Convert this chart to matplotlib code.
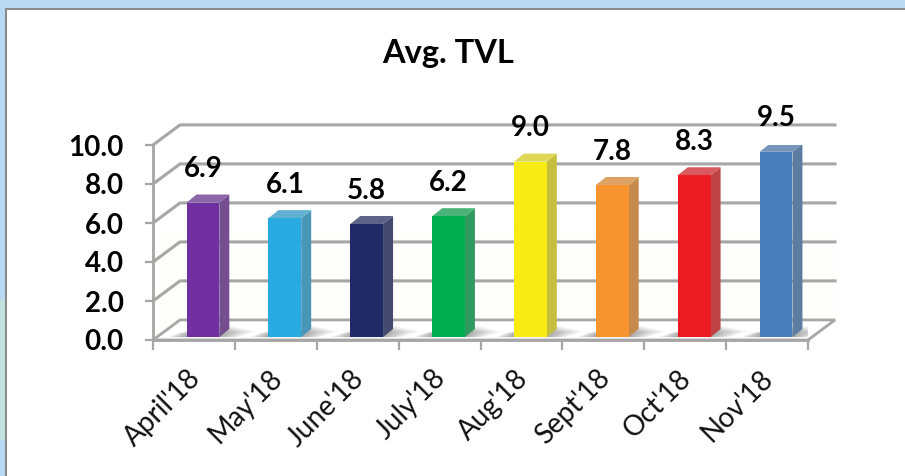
import matplotlib
matplotlib.use('Agg')
import matplotlib.pyplot as plt
from matplotlib.colors import to_rgb
from matplotlib.patches import Polygon, Rectangle
from matplotlib.transforms import ScaledTranslation

plt.rcParams['font.family'] = ['Lato', 'DejaVu Sans']

months = ["April'18", "May'18", "June'18", "July'18", "Aug'18", "Sept'18", "Oct'18", "Nov'18"]
tvl = [6.9, 6.1, 5.8, 6.2, 9.0, 7.8, 8.3, 9.5]
bar_colors = ['#7030A0', '#29ABE2', '#1F2A66', '#00B050', '#F9EC14', '#F7942E', '#ED1C24', '#4A7EBB']
y_ticks = [0, 2, 4, 6, 8, 10]

W, H = 905, 476
GRID = '#a6a6a6'
# depth of the fake 3d box, in data units
DX, DY = 0.33, 1.03
# depth of one bar
BAR_DX, BAR_DY = 0.122, 0.41
BAR_LEFT, BAR_W, BAR_BASE = 0.41, 0.40, 0.15


def mix(color, other, amount):
    c, o = to_rgb(color), to_rgb(other)
    return tuple(a * (1 - amount) + b * amount for a, b in zip(c, o))


fig = plt.figure(figsize=(W / 100, H / 100), dpi=100, facecolor='#B9D9F3')
# window frame
fig.add_artist(Rectangle((0, 36 / H), 5 / W, 140 / H, transform=fig.transFigure, fc='#C2E0DC', ec='none', zorder=-3))
fig.add_artist(Rectangle((5 / W, 0), 1, 1 - 8 / H, transform=fig.transFigure, fc='#8a8a8a', ec='none', zorder=-2))
fig.add_artist(Rectangle((7 / W, 0), 1, 1 - 10 / H, transform=fig.transFigure, fc='white', ec='none', zorder=-1))

ax = fig.add_axes([153 / W, 1 - 340 / H, 655 / W, 195 / H])
ax.patch.set_alpha(0)
ax.set_xlim(0, 8)
ax.set_ylim(0, 10)
for s in ['top', 'right']:
    ax.spines[s].set_visible(False)
for s in ['left', 'bottom']:
    ax.spines[s].set_color(GRID)
    ax.spines[s].set_linewidth(2)

# back wall tint and floor
ax.add_patch(Polygon([(0, 0), (DX, DY), (8 + DX, DY), (8 + DX, 5.6), (0, 5.6)], fc='#fefefd', ec='none', clip_on=False, zorder=0))
ax.add_patch(Polygon([(0, 0), (DX, DY), (8 + DX, DY), (8, 0)], fc='white', ec=GRID, lw=2, clip_on=False, zorder=1))

# grid lines running along the side wall and the back wall
for t in y_ticks[1:]:
    ax.plot([0, DX, 8 + DX], [t, t + DY, t + DY], color=GRID, lw=2.2, clip_on=False, zorder=1)

for i, v in enumerate(tvl):
    x0 = i + BAR_LEFT
    x1 = x0 + BAR_W
    top = v + BAR_BASE
    c = bar_colors[i]
    # soft shadow on the floor
    for k in range(10):
        grow = k * 0.022
        ax.add_patch(Polygon([(x0 - 0.03 - grow, BAR_BASE), (x0 + 0.1 - grow, 0.55 - grow),
                              (x1 + 0.14 + grow * 1.6, 0.75 - grow * 1.5), (x1 + 0.02 + grow, BAR_BASE)],
                             fc='#666666', alpha=0.07, ec='none', zorder=2))
    ax.bar(x0, v, width=BAR_W, bottom=BAR_BASE, align='edge', color=c, zorder=4)
    ax.add_patch(Polygon([(x1, BAR_BASE), (x1 + BAR_DX, BAR_BASE + BAR_DY), (x1 + BAR_DX, top + BAR_DY), (x1, top)],
                         fc=mix(c, '#7a7a7a', 0.4), ec='none', zorder=3))
    ax.add_patch(Polygon([(x0, top), (x0 + BAR_DX, top + BAR_DY), (x1 + BAR_DX, top + BAR_DY), (x1, top)],
                         fc=mix(c, '#b8b8b8', 0.4), ec='none', zorder=3))
    ax.annotate(f'{v:.1f}', (x0 + BAR_W / 2, top), xytext=(0, 24), textcoords='offset points',
                ha='center', va='center', fontsize=20, fontweight='bold', color='black', zorder=6,
                annotation_clip=False)

ax.set_yticks(y_ticks)
ax.set_yticklabels([f'{t:.1f}' for t in y_ticks], fontsize=20, fontweight='bold', color='black')
ax.tick_params(axis='y', length=6, width=1.6, color=GRID, pad=15)

ax.set_xticks([i + 0.5 for i in range(8)])
ax.set_xticklabels(months, rotation=45, ha='right', rotation_mode='anchor', fontsize=20, color='#111111')
ax.set_xticks(range(9), minor=True)
ax.tick_params(axis='x', which='major', length=0, pad=18)
ax.tick_params(axis='x', which='minor', length=7, width=1.6, color=GRID)
for lbl in ax.get_xticklabels():
    lbl.set_transform(lbl.get_transform() + ScaledTranslation(-7 / 100, 0, fig.dpi_scale_trans))

fig.text(448 / W, 1 - 53 / H, 'Avg. TVL', ha='center', va='center', fontsize=23.5, fontweight='bold', color='black')

fig.savefig('out.png', dpi=100)
